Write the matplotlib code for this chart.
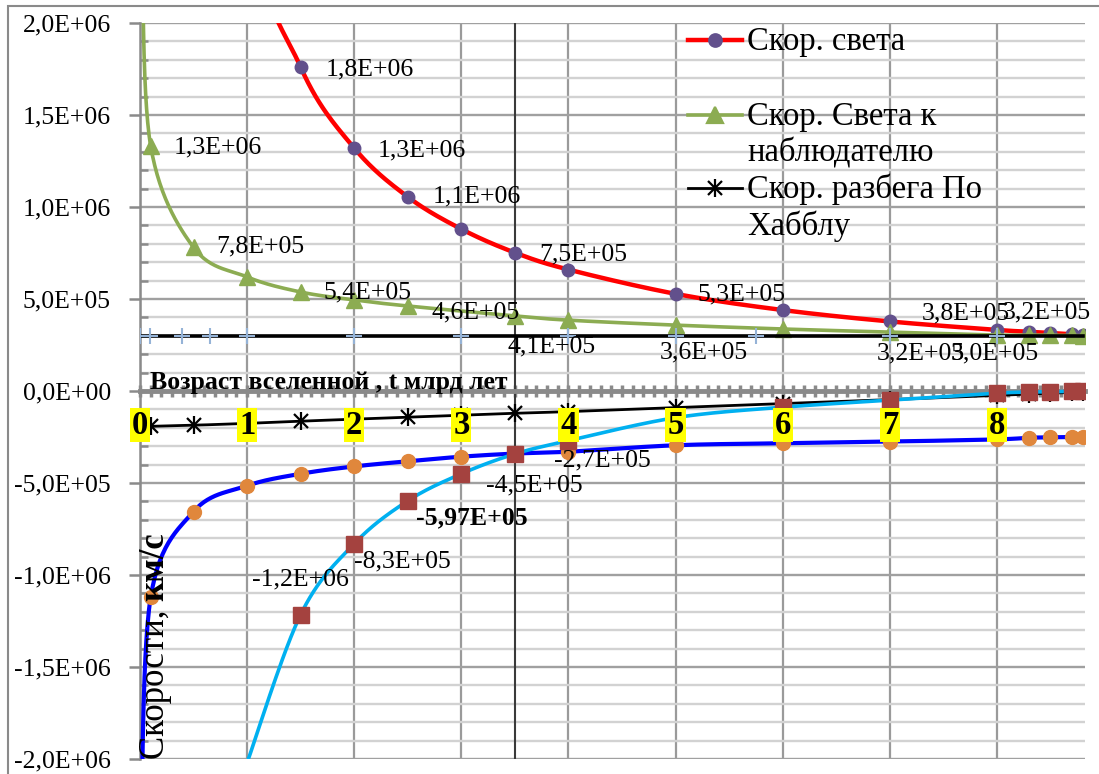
import numpy as np
import matplotlib
matplotlib.use("Agg")
import matplotlib.pyplot as plt
from matplotlib.lines import Line2D
from matplotlib.patches import Rectangle
from matplotlib.ticker import MultipleLocator, FuncFormatter

plt.rcParams['font.family'] = ['Liberation Serif', 'DejaVu Serif']

# ---------------- data ----------------
legend_names = ["Скор. света", "Скор. Света к\nнаблюдателю", "Скор. разбега По\nХабблу"]
x_title = "Возраст вселенной , t млрд лет"
y_title_regular = "Скорости, "
y_title_bold = "км/с"
x_tick_values = [0, 1, 2, 3, 4, 5, 6, 7, 8]

# speed of light (red, purple circles)
t_light = [0.5, 1, 1.5, 2, 2.5, 3, 3.5, 4, 5, 6, 7, 8, 8.3, 8.5, 8.7, 8.8]
v_light = [5.26e6, 2.63e6, 1.76e6, 1.32e6, 1.055e6, 8.8e5, 7.52e5, 6.6e5, 5.28e5,
           4.4e5, 3.78e5, 3.32e5, 3.22e5, 3.15e5, 3.08e5, 3.05e5]

# speed of light towards observer (green, triangles)
t_obs = [0.02, 0.1, 0.5, 1, 1.5, 2, 2.5, 3.5, 4, 5, 6, 7, 8, 8.3, 8.5, 8.7, 8.8]
v_obs = [2.4e6, 1.33e6, 7.8e5, 6.2e5, 5.38e5, 4.95e5, 4.62e5, 4.08e5, 3.85e5, 3.58e5,
         3.37e5, 3.2e5, 3.04e5, 3.04e5, 3.03e5, 3.02e5, 3.01e5]

# Hubble recession speed (black, asterisks)
t_hub = [0.1, 0.5, 1, 1.5, 2, 2.5, 3, 3.5, 4, 5, 6, 7, 8, 8.3, 8.5, 8.7, 8.8]
v_hub = [-1.92e5, -1.86e5, -1.76e5, -1.64e5, -1.53e5, -1.42e5, -1.31e5, -1.21e5, -1.12e5,
         -0.9e5, -0.69e5, -0.47e5, -0.24e5, -0.17e5, -0.12e5, -0.08e5, -0.05e5]

# constant c line (black) with light-blue plus markers
t_c_line = [0, 8.8]
v_c_line = [3.0e5, 3.0e5]
t_c_marks = [0, 0.09, 0.39, 0.65, 1, 2, 3, 4, 5, 5.75, 7, 8]
v_c_marks = [3.0e5] * 12

# blue line with orange circles
t_blue_lead = [0.01]
v_blue_lead = [-2.4e6]
t_orange = [0.1, 0.5, 1, 1.5, 2, 2.5, 3, 3.5, 4, 5, 6, 7, 8, 8.3, 8.5, 8.7, 8.8]
v_orange = [-1.12e6, -6.55e5, -5.15e5, -4.5e5, -4.1e5, -3.82e5, -3.57e5, -3.4e5, -3.3e5,
            -2.95e5, -2.84e5, -2.75e5, -2.63e5, -2.54e5, -2.52e5, -2.5e5, -2.5e5]

# cyan line with brown squares
t_cyan = [1, 1.5, 2, 2.5, 3, 3.5, 4, 5, 6, 7, 8, 8.3, 8.5, 8.7, 8.8]
v_cyan = [-2.02e6, -1.215e6, -8.3e5, -5.97e5, -4.5e5, -3.42e5, -2.7e5, -1.45e5, -0.88e5,
          -0.5e5, -0.12e5, -0.06e5, -0.04e5, -0.02e5, -0.01e5]

ref_line_t = 3.5

# ---------------- labels: (index, decimals, dx px, dy px, bold) ----------------
red_labels = [(2, 1, 69, -2), (3, 1, 68, -2), (4, 1, 69, 0), (6, 1, 68, -2),
              (8, 1, 66, -1), (10, 1, 76, 8), (12, 1, 18, 19)]
green_labels = [(1, 1, 67, -1), (2, 1, 67, 1), (4, 1, 67, 0), (6, 1, 68, -6),
                (7, 1, 37, -31), (9, 1, 28, -27), (11, 1, 31, -21), (12, 1, -2, -18)]
cyan_labels = [(1, 1, 0, 35, False), (2, 1, 48, -18, False), (3, 2, 64, -17, True),
               (4, 1, 73, -12, False), (6, 1, 34, -20, False)]

# ---------------- figure ----------------
W, H = 1099, 774
L, R, T, B = 140, 1084.7, 23, 759
fig = plt.figure(figsize=(W / 100, H / 100), dpi=100)
fig.patch.set_facecolor('white')
ax = fig.add_axes([L / W, 1 - B / H, (R - L) / W, (B - T) / H])
ax.set_xlim(0, 8.82)
ax.set_ylim(-2e6, 2e6)
ax.set_facecolor('white')

ax.yaxis.set_major_locator(MultipleLocator(5e5))
ax.yaxis.set_minor_locator(MultipleLocator(1e5))
ax.xaxis.set_major_locator(MultipleLocator(1))
ax.xaxis.set_minor_locator(MultipleLocator(0.1))
ax.grid(which='minor', axis='y', color='#d2d2d2', lw=1.7)
ax.grid(which='major', axis='y', color='#a0a0a0', lw=1.7)
ax.grid(which='major', axis='x', color='#9a9a9a', lw=1.6)
ax.set_axisbelow(True)

gray = '#8a8a8a'
for s in ['top', 'right']:
    ax.spines[s].set_visible(False)
ax.spines['left'].set_color(gray)
ax.spines['left'].set_linewidth(1.8)
ax.spines['bottom'].set_position(('data', 0))
ax.spines['bottom'].set_color(gray)
ax.spines['bottom'].set_linewidth(3.5)

ax.tick_params(axis='x', which='both', direction='inout', length=9, width=2.5,
               color=gray, labelbottom=False)
ax.tick_params(axis='y', which='major', direction='out', length=8, width=1.8,
               color=gray, labelsize=18.5, pad=13)
ax.tick_params(axis='y', which='minor', direction='in', length=6, width=1.8, color=gray)
ax.yaxis.set_major_formatter(FuncFormatter(lambda v, p: f"{v:.1E}".replace('.', ',')))

ax.axvline(ref_line_t, color='#3a3a3a', lw=1.5, zorder=1.6)


def smooth(xs, ys, n=30):
    pts = ax.transData.transform(np.column_stack([xs, ys]))
    P = np.vstack([pts[0], pts, pts[-1]])
    out = [pts[0]]
    s = np.linspace(0, 1, n)[1:, None]
    for i in range(1, len(P) - 2):
        p0, p1, p2, p3 = P[i - 1], P[i], P[i + 1], P[i + 2]
        c1 = p1 + (p2 - p0) / 6
        c2 = p2 - (p3 - p1) / 6
        seg = (1 - s) ** 3 * p1 + 3 * (1 - s) ** 2 * s * c1 + 3 * (1 - s) * s ** 2 * c2 + s ** 3 * p2
        out.extend(seg)
    out = np.array(out)
    d = ax.transData.inverted().transform(out)
    return d[:, 0], d[:, 1]


# red
xs, ys = smooth(t_light, v_light)
ax.plot(xs, ys, color='#ff0000', lw=3.2, zorder=3, solid_capstyle='round')
ax.plot(t_light, v_light, ls='none', marker='o', ms=9, color='#62508c', zorder=3.05)
# green
xs, ys = smooth(t_obs, v_obs)
ax.plot(xs, ys, color='#8cac52', lw=2.6, zorder=3.1)
ax.plot(t_obs, v_obs, ls='none', marker='^', ms=11, color='#8cac52', zorder=3.15)
# hubble
xs, ys = smooth(t_hub, v_hub)
ax.plot(xs, ys, color='black', lw=2.0, zorder=3.2)
ax.plot(t_hub, v_hub, ls='none', marker='x', ms=10, mew=1.6, color='black', zorder=3.25)
ax.plot(t_hub, v_hub, ls='none', marker='|', ms=13, mew=1.6, color='black', zorder=3.25)
# c line
ax.plot(t_c_line, v_c_line, color='black', lw=2.6, zorder=3.3)
ax.plot(t_c_marks, v_c_marks, ls='none', marker='+', ms=12, mew=1.5, color='#95b3d7', zorder=3.35)
# blue / orange
xs, ys = smooth(t_blue_lead + t_orange, v_blue_lead + v_orange)
ax.plot(xs, ys, color='#0000ff', lw=3.0, zorder=3.4)
ax.plot(t_orange, v_orange, ls='none', marker='o', ms=10, color='#e0873c', zorder=3.45)
# cyan / squares
xs, ys = smooth(t_cyan, v_cyan)
ax.plot(xs, ys, color='#00b0f0', lw=2.6, zorder=3.5)
ax.plot(t_cyan[1:], v_cyan[1:], ls='none', marker='s', ms=11, color='#a4423f', zorder=3.55)


def fmt(v, d):
    return f"{v:.{d}E}".replace('.', ',')


for i, d, dx, dy in red_labels:
    ax.annotate(fmt(v_light[i], d), (t_light[i], v_light[i]), xytext=(dx, dy),
                textcoords='offset pixels', ha='center', va='center', fontsize=18.5, zorder=6)
for i, d, dx, dy in green_labels:
    ax.annotate(fmt(v_obs[i], d), (t_obs[i], v_obs[i]), xytext=(dx, dy),
                textcoords='offset pixels', ha='center', va='center', fontsize=18.5, zorder=6)
for i, d, dx, dy, bold in cyan_labels:
    ax.annotate(fmt(v_cyan[i], d), (t_cyan[i], v_cyan[i]), xytext=(dx, dy),
                textcoords='offset pixels', ha='center', va='center', fontsize=18.5,
                fontweight='bold' if bold else 'normal', zorder=6)

# x tick labels (yellow boxes)
for tv in x_tick_values:
    ax.annotate(str(tv), (tv, 0), xytext=(0, -34), textcoords='offset pixels',
                ha='center', va='center', fontsize=23.5, fontweight='bold', zorder=7,
                bbox=dict(boxstyle='square,pad=0.06', fc='#ffff00', ec='none'))

# axis titles
ax.text((150 - L) / (R - L), (B - 383) / (B - T), x_title, transform=ax.transAxes,
        ha='left', va='center', fontsize=18.5, fontweight='bold', zorder=7)
t1 = ax.text((155 - L) / (R - L), 0.0, y_title_regular, transform=ax.transAxes, rotation=90,
             ha='center', va='bottom', fontsize=25, zorder=7)
fig.canvas.draw()
bb = t1.get_window_extent()
top_frac = ax.transAxes.inverted().transform((0, bb.y1))[1]
ax.text((155 - L) / (R - L), top_frac, y_title_bold, transform=ax.transAxes, rotation=90,
        ha='center', va='bottom', fontsize=25, fontweight='bold', zorder=7)

# legend (manual)
def fx(px):
    return (px - L) / (R - L)


def fy(py):
    return (B - py) / (B - T)


leg_styles = [dict(color='#ff0000', lw=3.2, marker='o', mc='#62508c', ms=9),
              dict(color='#8cac52', lw=2.6, marker='^', mc='#8cac52', ms=11),
              dict(color='black', lw=2.0, marker='x', mc='black', ms=10)]
leg_y = [40, 115, 188]
for name, st, yy in zip(legend_names, leg_styles, leg_y):
    ax.add_line(Line2D([fx(688), fx(742)], [fy(yy)] * 2, color=st['color'], lw=st['lw'],
                       transform=ax.transAxes, clip_on=False, zorder=8))
    ax.add_line(Line2D([fx(715)], [fy(yy)], ls='none', marker=st['marker'], ms=st['ms'],
                       color=st['mc'], mew=1.6, transform=ax.transAxes, clip_on=False, zorder=8))
    if st['marker'] == 'x':
        ax.add_line(Line2D([fx(715)], [fy(yy)], ls='none', marker='|', ms=13,
                           color=st['mc'], mew=1.6, transform=ax.transAxes, clip_on=False, zorder=8))
    for k, line in enumerate(name.split('\n')):
        ax.text(fx(747), fy(yy + 10 + 37 * k), line, transform=ax.transAxes,
                ha='left', va='baseline', fontsize=23.5, zorder=8)

# chart border
fig.patches.append(Rectangle((8 / W, -0.1), 1.2, 1 - 6 / H + 0.1, transform=fig.transFigure,
                             fill=False, ec='#8a8a8a', lw=1.5))

fig.savefig('out.png', dpi=100)
